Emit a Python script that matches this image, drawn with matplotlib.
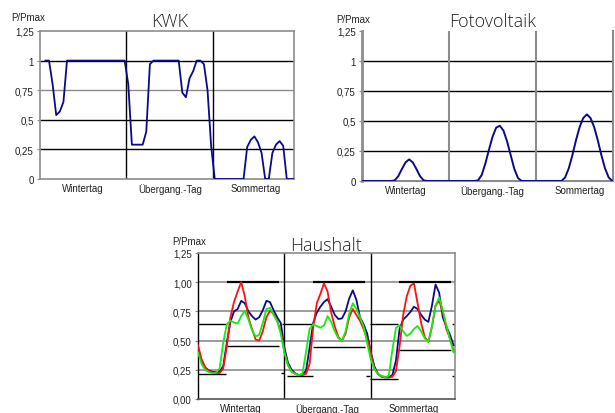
import numpy as np
import matplotlib
matplotlib.use("Agg")
import matplotlib.pyplot as plt

nan = np.nan

# ---------------- data ----------------
days = ["Wintertag", "Übergang.-Tag", "Sommertag"]
ytick_vals = [0, 0.25, 0.5, 0.75, 1.0, 1.25]
ytick_top = ["0", "0,25", "0,5", "0,75", "1", "1,25"]
ytick_hh = ["0,00", "0,25", "0,50", "0,75", "1,00", "1,25"]

# KWK hourly values (three days)
kwk_day1 = [nan, 1, 1, 0.8, 0.54, 0.57, 0.65, 1, 1, 1, 1, 1, 1, 1, 1, 1, 1, 1, 1, 1, 1, 1, 1, 1]
kwk_day2 = [0.8, 0.29, 0.29, 0.29, 0.29, 0.40, 0.97, 1, 1, 1, 1, 1, 1, 1, 1,
            0.73, 0.69, 0.85, 0.91, 1.0, 1.0, 0.97, 0.75, 0.28]
kwk_day3 = [0, 0, 0, 0, 0, 0, 0, 0, 0, 0.27, 0.33, 0.36, 0.31, 0.22, 0, 0,
            0.22, 0.29, 0.32, 0.28, 0, 0, 0, 0]

# Fotovoltaik hourly values
pv_day1 = [0, 0, 0, 0, 0, 0, 0, 0, 0, 0.005, 0.04, 0.10, 0.155, 0.18, 0.155, 0.10,
           0.04, 0.005, 0, 0, 0, 0, 0, 0]
pv_day2 = [0, 0, 0, 0, 0, 0, 0, 0, 0.005, 0.05, 0.145, 0.26, 0.37, 0.445, 0.46, 0.42,
           0.33, 0.215, 0.10, 0.025, 0, 0, 0, 0]
pv_day3 = [0, 0, 0, 0, 0, 0, 0, 0, 0.03, 0.105, 0.215, 0.34, 0.45, 0.525, 0.555, 0.525,
           0.45, 0.34, 0.215, 0.105, 0.03, 0, 0, 0]

# Haushalt hourly values: three profiles
red_day1 = [0.46, 0.34, 0.27, 0.24, 0.225, 0.22, 0.222, 0.26, 0.45, 0.70, 0.83, 0.92,
            1.00, 0.88, 0.70, 0.60, 0.51, 0.50, 0.58, 0.70, 0.755, 0.73, 0.67, 0.58]
red_day2 = [0.40, 0.29, 0.235, 0.215, 0.205, 0.205, 0.215, 0.30, 0.61, 0.82, 0.90, 0.99,
            0.92, 0.74, 0.62, 0.53, 0.50, 0.56, 0.70, 0.77, 0.72, 0.67, 0.60, 0.52]
red_day3 = [0.40, 0.26, 0.215, 0.195, 0.19, 0.185, 0.19, 0.24, 0.45, 0.72, 0.88, 0.97,
            0.99, 0.82, 0.65, 0.53, 0.49, 0.62, 0.80, 0.84, 0.75, 0.60, 0.52, 0.41]

blue_day1 = [0.42, 0.33, 0.27, 0.245, 0.232, 0.23, 0.235, 0.28, 0.48, 0.66, 0.75, 0.77,
             0.84, 0.82, 0.75, 0.71, 0.68, 0.70, 0.76, 0.84, 0.83, 0.76, 0.70, 0.65]
blue_day2 = [0.44, 0.31, 0.25, 0.22, 0.205, 0.21, 0.24, 0.44, 0.65, 0.74, 0.79, 0.83,
             0.855, 0.79, 0.72, 0.685, 0.69, 0.75, 0.86, 0.93, 0.85, 0.70, 0.64, 0.56]
blue_day3 = [0.40, 0.28, 0.215, 0.19, 0.185, 0.185, 0.205, 0.33, 0.60, 0.68, 0.71, 0.745,
             0.79, 0.77, 0.72, 0.68, 0.66, 0.80, 0.98, 0.91, 0.70, 0.62, 0.55, 0.46]

green_day1 = [0.40, 0.30, 0.25, 0.23, 0.22, 0.225, 0.26, 0.48, 0.64, 0.67, 0.655, 0.645,
              0.71, 0.755, 0.68, 0.59, 0.535, 0.55, 0.65, 0.77, 0.78, 0.72, 0.665, 0.56]
green_day2 = [0.40, 0.29, 0.235, 0.215, 0.205, 0.215, 0.40, 0.60, 0.64, 0.625, 0.61, 0.63,
              0.71, 0.66, 0.58, 0.52, 0.50, 0.58, 0.73, 0.82, 0.77, 0.70, 0.62, 0.48]
green_day3 = [0.34, 0.26, 0.215, 0.195, 0.185, 0.20, 0.42, 0.61, 0.63, 0.58, 0.54, 0.56,
              0.60, 0.625, 0.58, 0.52, 0.49, 0.62, 0.80, 0.87, 0.76, 0.63, 0.51, 0.40]

# Haushalt black level segments: start hour, end hour, value
hh_start = [0, 0, 8, 8, 23.0, 23.4, 24.7, 31.9, 31.9, 46.8, 47.8, 47.8, 55.8, 55.8, 70.6, 70.6]
hh_end = [8, 7.8, 22.6, 22.6, 23.8, 31.9, 31.9, 46.5, 46.5, 47.7, 55.5, 55.6, 70.4, 70.4, 71.4, 71.4]
hh_level = [0.64, 0.214, 1.0, 0.45, 0.22, 0.64, 0.194, 1.0, 0.445, 0.197, 0.64, 0.171, 1.0, 0.422, 0.64, 0.195]

# ---------------- figure ----------------
W, H = 615, 414
fig = plt.figure(figsize=(W / 100, H / 100), dpi=100)
plt.rcParams['font.family'] = ['Liberation Sans', 'DejaVu Sans']

TXT = '#222222'
GREY = '#8c8c8c'
NAVY = '#0a0a8a'
FS = 7


def px_axes(l, t, r, b):
    return fig.add_axes([l / W, 1 - b / H, (r - l) / W, (b - t) / H])


def style(ax, xmax, yt_labels, spine_cols, spine_lw):
    ax.set_xlim(0, xmax)
    ax.set_ylim(0, 1.25)
    ax.set_yticks(ytick_vals)
    ax.set_yticklabels(yt_labels)
    ax.set_xticks([12, 36, 60])
    ax.set_xticklabels(days)
    ax.tick_params(axis='x', length=0, pad=3.0, labelsize=FS, colors=TXT)
    ax.tick_params(axis='y', length=2.5, width=0.8, color=GREY, pad=2, labelsize=FS,
                   labelcolor=TXT)
    for side in ['left', 'right', 'top', 'bottom']:
        c = spine_cols[side]
        if c is None:
            ax.spines[side].set_visible(False)
        else:
            ax.spines[side].set_color(c)
            ax.spines[side].set_linewidth(spine_lw[side])
    ax.set_facecolor('white')


def title(xc, yb, s):
    fig.text(xc / W, 1 - yb / H, s, ha='center', va='baseline', fontsize=13,
             family=['Open Sans', 'DejaVu Sans'], fontweight='light', color=TXT)


def ylabel(xl, yb):
    fig.text(xl / W, 1 - yb / H, "P/Pmax", ha='left', va='baseline', fontsize=FS, color=TXT)


# ---- KWK ----
ax1 = px_axes(40, 32, 294, 180)
style(ax1, 70.5, ytick_top,
      {'left': GREY, 'right': GREY, 'top': GREY, 'bottom': GREY},
      {'left': 1.2, 'right': 1.2, 'top': 1.2, 'bottom': 1.2})
for v, c in zip([0.25, 0.5, 0.75, 1.0], ['black', 'black', GREY, 'black']):
    ax1.axhline(v, color=c, lw=1.0, zorder=1)
for d in [24, 48]:
    ax1.axvline(d, color='black', lw=1.0, zorder=1)
kwk = kwk_day1 + kwk_day2 + kwk_day3
ax1.plot(np.arange(len(kwk)) + 0.5, kwk, color=NAVY, lw=1.3, zorder=3, clip_on=True)
title(170, 27.3, "KWK")
ylabel(11, 20.7)

# ---- Fotovoltaik ----
ax2 = px_axes(362, 32, 613, 182)
style(ax2, 69.2, ytick_top,
      {'left': GREY, 'right': GREY, 'top': None, 'bottom': GREY},
      {'left': 2.0, 'right': 1.5, 'top': 1.0, 'bottom': 1.5})
for v in [0.25, 0.5, 0.75, 1.0]:
    ax2.axhline(v, color='black', lw=1.0, zorder=1)
for d in [24, 48]:
    ax2.axvline(d, color=GREY, lw=1.5, zorder=1)
pv = pv_day1 + pv_day2 + pv_day3
ax2.plot(np.arange(len(pv)), pv, color=NAVY, lw=1.4, zorder=3)
title(493, 26.7, "Fotovoltaik")
ylabel(336, 23.3)

# ---- Haushalt ----
ax3 = px_axes(198, 254, 455, 400)
style(ax3, 71.4, ytick_hh,
      {'left': 'black', 'right': GREY, 'top': GREY, 'bottom': '#555555'},
      {'left': 1.0, 'right': 1.2, 'top': 1.2, 'bottom': 1.2})
for v in [0.25, 0.5, 0.75, 1.0]:
    ax3.axhline(v, color=GREY, lw=1.2, zorder=1)
for d in [24, 48]:
    ax3.axvline(d, color='black', lw=1.0, zorder=1)
for s, e, v in zip(hh_start, hh_end, hh_level):
    ax3.hlines(v, s, e, color='black', lw=1.6 if v == 1.0 else 1.0, zorder=2)
hours = np.arange(72)
ax3.plot(hours, blue_day1 + blue_day2 + blue_day3, color=NAVY, lw=1.3, zorder=3)
ax3.plot(hours, red_day1 + red_day2 + red_day3, color='#ff1010', lw=1.3, zorder=4)
ax3.plot(hours, green_day1 + green_day2 + green_day3, color='#10ee10', lw=1.3, zorder=5)
title(326.3, 250.7, "Haushalt")
ylabel(172, 245)

fig.savefig("out.png", dpi=100, facecolor='white')
